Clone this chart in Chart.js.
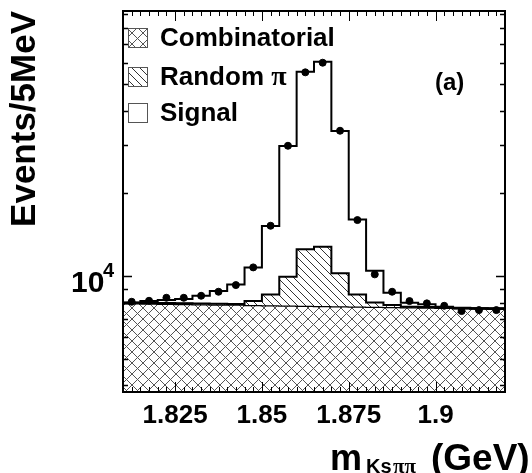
<!DOCTYPE html>
<html>
<head>
<meta charset="utf-8">
<script src="https://cdn.jsdelivr.net/npm/chart.js@4.4.0/dist/chart.umd.min.js"></script>
<style>
  html, body { margin: 0; padding: 0; background: #fff; }
  #wrap { width: 532px; height: 473px; position: relative; }
</style>
</head>
<body>
<div id="wrap"><canvas id="grafico"></canvas></div>
<script>
// Centros de los bins de 5 MeV (GeV)
const binCenters = [1.8125, 1.8175, 1.8225, 1.8275, 1.8325, 1.8375, 1.8425, 1.8475, 1.8525, 1.8575, 1.8625,
                    1.8675, 1.8725, 1.8775, 1.8825, 1.8875, 1.8925, 1.8975, 1.9025, 1.9075, 1.9125, 1.9175];
const halfBin = 0.0025;

// Fondo combinatorio
const combinatorial = [7960, 7945, 7930, 7915, 7900, 7885, 7870, 7850, 7835, 7815, 7800,
                       7780, 7765, 7745, 7730, 7710, 7695, 7675, 7660, 7640, 7620, 7600];
// Combinatorio + pi aleatorio (apilado)
const randomPiStack = [8000, 7985, 7970, 7955, 7940, 7925, 7910, 8110, 8575, 9940, 12520,
                       12800, 10230, 8575, 8010, 7840, 7735, 7710, 7690, 7665, 7640, 7615];
// Ajuste total (combinatorio + pi aleatorio + señal)
const totalFit = [8010, 8110, 8175, 8245, 8477, 8815, 9327, 10757, 15220, 29800, 55500,
                  60400, 33800, 16080, 10450, 8690, 7995, 7900, 7730, 7640, 7625, 7615];
// Datos
const dataPoints = [8060, 8128, 8335, 8335, 8477, 8768, 9272, 10757, 15255, 29854, 55280,
                    59930, 33860, 16000, 10144, 8768, 8107, 7953, 7794, 7455, 7516, 7516];

const legendLabels = ["Combinatorial", "Random \u03c0", "Signal"];
const xTickValues = [1.825, 1.85, 1.875, 1.9];
const xTickLabels = ["1.825", "1.85", "1.875", "1.9"];
const yTickValues = [4000, 5000, 6000, 7000, 8000, 9000, 10000, 20000, 30000, 40000, 50000, 60000, 70000, 80000, 90000];

const FONT = "'Liberation Sans', Arial, Helvetica, sans-serif";
const SERIF = "'Liberation Serif', 'Times New Roman', serif";

const canvas = document.getElementById("grafico");
const ctx = canvas.getContext("2d");

// Patrones de rayado
function crossHatch() {
    const c = document.createElement("canvas");
    c.width = 11; c.height = 11;
    const g = c.getContext("2d");
    g.fillStyle = "#fff";
    g.fillRect(0, 0, 11, 11);
    g.strokeStyle = "#555";
    g.lineWidth = 1;
    g.beginPath();
    g.moveTo(0, 0); g.lineTo(11, 11);
    g.moveTo(11, 0); g.lineTo(0, 11);
    g.stroke();
    return ctx.createPattern(c, "repeat");
}
function diagHatch() {
    const c = document.createElement("canvas");
    c.width = 8; c.height = 8;
    const g = c.getContext("2d");
    g.fillStyle = "#fff";
    g.fillRect(0, 0, 8, 8);
    g.strokeStyle = "#333";
    g.lineWidth = 1;
    g.beginPath();
    g.moveTo(0, 0); g.lineTo(8, 8);
    g.moveTo(7, -1); g.lineTo(9, 1);
    g.moveTo(-1, 7); g.lineTo(1, 9);
    g.stroke();
    return ctx.createPattern(c, "repeat");
}
const crossPattern = crossHatch();
const diagPattern = diagHatch();

// Histograma escalonado a partir de los bins
function histo(vals) {
    const pts = vals.map((v, i) => ({ x: binCenters[i] - halfBin, y: v }));
    pts.push({ x: binCenters[binCenters.length - 1] + halfBin, y: vals[vals.length - 1] });
    return pts;
}

// Marco, marcas hacia dentro, textos especiales y leyenda
const decoraciones = {
    id: "decoraciones",
    afterDraw(chart) {
        const g = chart.ctx;
        const a = chart.chartArea;
        const xs = chart.scales.x;
        const ys = chart.scales.y;
        g.save();
        g.strokeStyle = "#000";
        g.lineWidth = 1.5;
        // marcas eje y (izquierda y derecha)
        ys.ticks.forEach(t => {
            const py = Math.round(ys.getPixelForValue(t.value)) + 0.5;
            const len = t.value === 10000 ? 9 : 5;
            g.beginPath();
            g.moveTo(a.left, py); g.lineTo(a.left + len, py);
            g.moveTo(a.right, py); g.lineTo(a.right - len, py);
            g.stroke();
        });
        // marcas eje x: principales y secundarias
        g.lineWidth = 1;
        for (let k = 0; k <= 44; k++) {
            const v = 1.81 + k * 0.0025;
            const px = Math.round(xs.getPixelForValue(v)) + 0.5;
            const major = xTickValues.some(tv => Math.abs(tv - v) < 1e-6);
            const len = major ? 10 : 5;
            g.beginPath();
            g.moveTo(px, a.bottom); g.lineTo(px, a.bottom - len);
            g.moveTo(px, a.top); g.lineTo(px, a.top + len);
            g.stroke();
        }
        // marco
        g.lineWidth = 2;
        g.strokeRect(a.left, a.top, a.right - a.left, a.bottom - a.top);

        // etiqueta 10^4
        g.fillStyle = "#000";
        g.textBaseline = "alphabetic";
        g.textAlign = "left";
        const y4 = ys.getPixelForValue(10000);
        g.font = "bold 30px " + FONT;
        g.fillText("10", 71, y4 + 16);
        g.font = "bold 20px " + FONT;
        g.fillText("4", 103, y4 + 1);

        // título eje x con subíndice
        g.font = "bold 36px " + FONT;
        g.fillText("m", 330, 470);
        g.font = "bold 20px " + FONT;
        g.fillText("Ks", 366, 473);
        g.font = "bold 21px " + SERIF;
        g.fillText("\u03c0\u03c0", 393, 473);
        g.font = "bold 37px " + FONT;
        g.fillText("(GeV)", 431, 470);

        // (a)
        g.font = "bold 24px " + FONT;
        g.fillText("(a)", 435, 90);

        // leyenda
        const fills = [crossPattern, diagPattern, "#fff"];
        const rows = [37, 76, 112];
        legendLabels.forEach((lab, i) => {
            const by = rows[i] - 9;
            g.fillStyle = fills[i];
            g.fillRect(128, by, 19, 19);
            g.strokeStyle = "#555";
            g.lineWidth = 1;
            g.strokeRect(128.5, by + 0.5, 19, 19);
            g.fillStyle = "#000";
            const parts = lab.split("\u03c0");
            g.font = "bold 26px " + FONT;
            g.fillText(parts[0], 160, rows[i] + 9);
            if (parts.length > 1) {
                const w = g.measureText(parts[0]).width;
                g.font = "bold 28px " + SERIF;
                g.fillText("\u03c0", 160 + w, rows[i] + 9);
            }
        });
        g.restore();
    }
};

const grafico = new Chart(ctx, {
    type: "line",
    data: {
        datasets: [
            {
                label: legendLabels[0],
                data: histo(combinatorial),
                stepped: "before",
                borderColor: "#000",
                borderWidth: 2.5,
                backgroundColor: crossPattern,
                fill: "start",
                pointRadius: 0,
                order: 4
            },
            {
                label: legendLabels[1],
                data: histo(randomPiStack),
                stepped: "before",
                borderColor: "#000",
                borderWidth: 2,
                backgroundColor: diagPattern,
                fill: "-1",
                pointRadius: 0,
                order: 3
            },
            {
                label: legendLabels[2],
                data: histo(totalFit),
                stepped: "before",
                borderColor: "#000",
                borderWidth: 2,
                fill: false,
                pointRadius: 0,
                order: 2
            },
            {
                label: "Data",
                data: binCenters.map((x, i) => ({ x: x, y: dataPoints[i] })),
                showLine: false,
                pointRadius: 3.5,
                pointBackgroundColor: "#000",
                pointBorderColor: "#000",
                order: 1
            }
        ]
    },
    options: {
        responsive: true,
        maintainAspectRatio: false,
        animation: false,
        layout: { padding: { left: 0, right: 27, top: 11, bottom: 0 } },
        plugins: {
            legend: { display: false },
            tooltip: { enabled: false }
        },
        scales: {
            x: {
                type: "linear",
                min: 1.81,
                max: 1.92,
                grid: { display: false, drawTicks: false },
                border: { display: false },
                afterBuildTicks: s => { s.ticks = xTickValues.map(v => ({ value: v })); },
                afterFit: s => { s.height = 81; },
                ticks: {
                    padding: 8,
                    color: "#000",
                    maxRotation: 0,
                    autoSkip: false,
                    font: { family: FONT, size: 26, weight: "bold" },
                    callback: (v, i) => xTickLabels[i]
                }
            },
            y: {
                type: "logarithmic",
                min: 3780,
                max: 92500,
                grid: { display: false, drawTicks: false },
                border: { display: false },
                afterBuildTicks: s => { s.ticks = yTickValues.map(v => ({ value: v })); },
                afterFit: s => { s.width = 123; },
                ticks: { display: false },
                title: {
                    display: true,
                    text: "Events/5MeV",
                    align: "end",
                    color: "#000",
                    font: { family: FONT, size: 35, weight: "bold" },
                    padding: { top: 4, bottom: 0 }
                }
            }
        }
    },
    plugins: [decoraciones]
});
</script>
</body>
</html>
